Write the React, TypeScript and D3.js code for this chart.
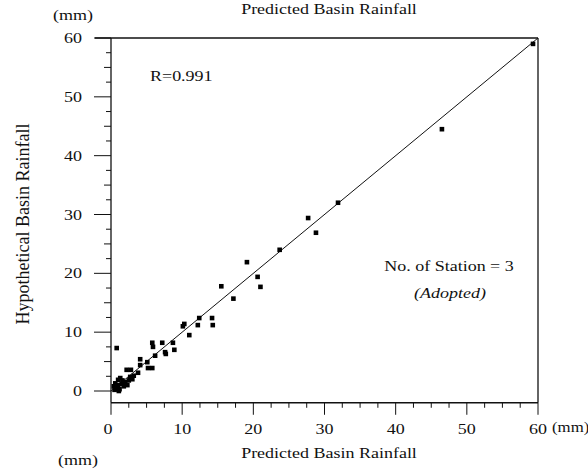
import React from 'react';
import * as d3 from 'd3';

// predicted (x) vs hypothetical (y) basin rainfall, mm
const predicted = [
  59.3, 46.5, 31.9, 27.7, 28.8, 23.7, 19.1, 20.6, 21.0, 17.2, 15.5,
  12.4, 14.2, 14.3, 12.2, 10.3, 10.1, 11.0, 7.2, 5.8, 5.9, 8.7, 7.6, 7.7, 8.9, 6.2,
  5.8, 5.1, 4.1, 4.1, 5.2, 2.2, 2.8, 3.8, 2.7, 1.0, 0.8,
  0.5, 0.8, 1.0, 1.2, 1.5, 1.3, 1.8, 2.0, 0.6, 1.6, 2.3, 0.4, 1.1, 3.0, 3.2, 2.5, 0.7,
];
const hypothetical = [
  59.0, 44.5, 32.0, 29.4, 26.9, 24.0, 21.9, 19.4, 17.7, 15.7, 17.8,
  12.4, 12.4, 11.2, 11.2, 11.4, 11.0, 9.5, 8.2, 8.2, 7.5, 8.2, 6.6, 6.3, 7.0, 6.0,
  3.9, 4.9, 4.4, 5.4, 3.9, 3.6, 3.6, 3.1, 2.4, 1.9, 7.3,
  0.2, 0.5, 1.0, 0.3, 1.2, 2.2, 0.8, 1.5, 1.3, 1.8, 1.0, 0.8, 0.0, 2.0, 2.6, 1.8, 0.3,
];
const majorTicks = [0, 10, 20, 30, 40, 50, 60];
const minorTicks = d3.range(0, 60.01, 2.5);

const font = '"Liberation Serif", "Times New Roman", serif';

// the scanned figure is stretched sideways, so the text is too
const T = ({ x, y, size = 15, anchor = 'start', italic = false, children }: any) => (
  <text transform={`translate(${x},${y}) scale(1.2,1)`} textAnchor={anchor} fontSize={size}
    fontStyle={italic ? 'italic' : 'normal'}>{children}</text>
);

const App = () => {
  const x = d3.scaleLinear().domain([0, 60]).range([111, 538]);
  const y = d3.scaleLinear().domain([0, 60]).range([391, 38]);
  const yBottom = y(-2);
  const fit = d3.line<number>().x(d => x(d)).y(d => y(d));

  return (
    <svg width={588} height={470} style={{ position: 'absolute', left: 0, top: 0, background: '#fff' }}
      fontFamily={font} fill="#111">
      {/* frame */}
      <g stroke="#111" strokeWidth={1.3} fill="none">
        <line x1={x(0)} x2={x(0)} y1={y(60)} y2={yBottom} />
        <line x1={x(0)} x2={x(60)} y1={yBottom} y2={yBottom} />
        <line x1={x(60)} x2={x(60)} y1={y(60)} y2={yBottom} />
        <line x1={x(0) - 16} x2={x(60)} y1={y(60)} y2={y(60)} />
      </g>

      {/* y ticks */}
      <g stroke="#111" strokeWidth={1}>
        {minorTicks.map(t => {
          const len = t % 10 === 0 ? 17 : t % 5 === 0 ? 7 : 5;
          return <line key={'y' + t} x1={x(0) - len} x2={x(0)} y1={y(t)} y2={y(t)} />;
        })}
      </g>
      {majorTicks.map(t => (
        <T key={'yl' + t} x={82} y={y(t) + 5} anchor="end">{t}</T>
      ))}

      {/* x ticks */}
      <g stroke="#111" strokeWidth={1}>
        {minorTicks.map(t => {
          const len = t % 10 === 0 ? 12 : 5;
          return <line key={'x' + t} x1={x(t)} x2={x(t)} y1={yBottom} y2={yBottom + len} />;
        })}
      </g>
      {majorTicks.map(t => (
        <T key={'xl' + t} x={x(t) - (t === 0 ? 3 : 0)} y={434} anchor="middle">{t}</T>
      ))}
      <T x={552} y={432} size={14}>(mm)</T>

      {/* 1:1 line */}
      <path d={fit([0, 60]) ?? ''} stroke="#111" strokeWidth={1} fill="none" />

      {/* points */}
      {predicted.map((p, i) => (
        <rect key={i} x={x(p) - 2.3} y={y(hypothetical[i]) - 2.3} width={4.6} height={4.6} fill="#000" />
      ))}

      {/* labels */}
      <T x={329} y={14} anchor="middle">Predicted Basin Rainfall</T>
      <T x={73} y={20} anchor="middle">(mm)</T>
      <T x={329} y={458} anchor="middle">Predicted Basin Rainfall</T>
      <T x={78} y={465} anchor="middle">(mm)</T>
      <text transform="translate(29,224) rotate(-90)" textAnchor="middle" fontSize={18}>Hypothetical Basin Rainfall</text>
      <T x={150} y={81}>R=0.991</T>
      <T x={449} y={271} anchor="middle">No. of Station = 3</T>
      <T x={450} y={298} anchor="middle" italic>(Adopted)</T>
    </svg>
  );
};

export default App;
